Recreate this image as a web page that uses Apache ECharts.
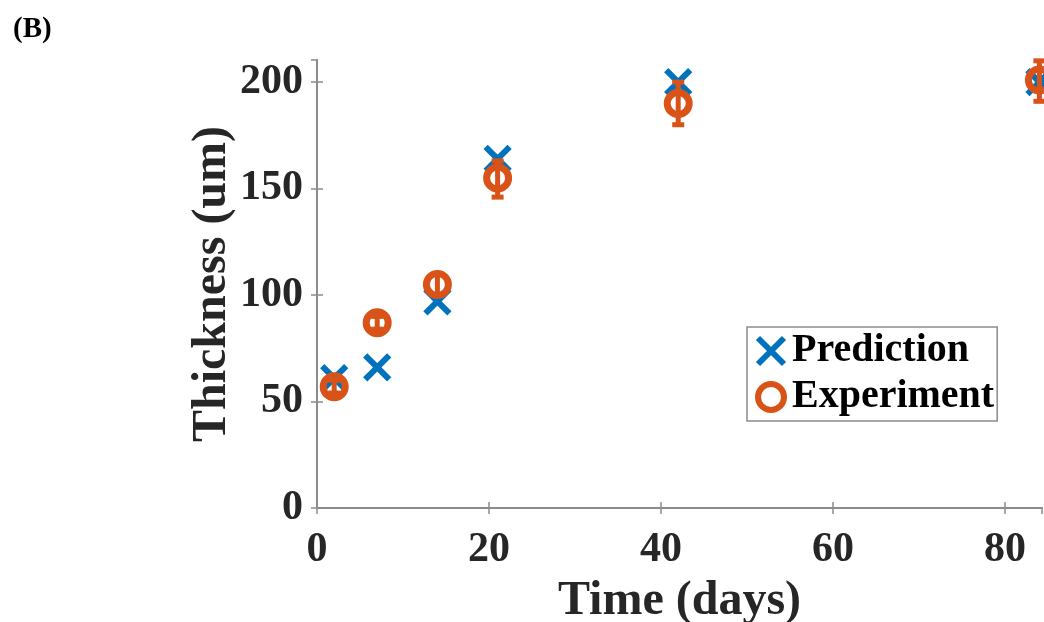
<!DOCTYPE html>
<html lang="en">
<head>
    <meta charset="UTF-8">
    <title>Thickness vs Time</title>
    <style type="text/css">
        *{ margin: 0; padding: 0; }
        #main{ width: 1044px; height: 622px; position: absolute; background: #fff; }
    </style>
</head>
<body>
    <div id="main"></div>
    <script src="https://cdn.jsdelivr.net/npm/echarts@6/dist/echarts.min.js"></script>
    <script type="text/javascript">
        // data
        var days = [2, 7, 14, 21, 42, 84];
        var prediction = [61, 66, 97, 164, 200, 200];
        var experiment = [57, 87, 105, 155, 190, 201];
        var expLow = [54, 84, 100, 146, 180, 191];
        var expHigh = [60, 90, 110, 163, 200, 210];
        var xTicks = [0, 20, 40, 60, 80];
        var yTicks = [0, 50, 100, 150, 200];

        var blue = '#0072BD';
        var orange = '#D95319';
        var font = '"Liberation Serif", "Times New Roman", serif';
        var crossPath = 'path://M0,0 L10,10 M10,0 L0,10';

        var myChart = echarts.init(document.getElementById('main'), null, {renderer: 'canvas'});

        var predData = days.map(function (d, i) { return [d, prediction[i]]; });
        var expData = days.map(function (d, i) { return [d, experiment[i]]; });
        var errData = days.map(function (d, i) { return [d, expLow[i], expHigh[i]]; });

        var axisLine = {show: true, lineStyle: {color: '#8c8c8c', width: 2}};
        var axisTick = {show: true, inside: true, length: 6, lineStyle: {color: '#8c8c8c', width: 1.5}};

        var option = {
            animation: false,
            title: {
                text: '(B)', left: 8, top: 10,
                textStyle: {fontFamily: font, fontWeight: 'bold', fontSize: 29, color: '#000'}
            },
            grid: {left: 317, right: 2, top: 60, bottom: 114, containLabel: false, outerBoundsMode: 'none'},
            legend: {
                left: 747, top: 327,
                orient: 'vertical',
                padding: [4, 3, 4, 8],
                itemGap: 6,
                itemWidth: 28, itemHeight: 26,
                borderColor: '#8c8c8c', borderWidth: 1.5,
                backgroundColor: '#fff',
                textStyle: {fontFamily: font, fontWeight: 'bold', fontSize: 40, color: '#000', padding: [0, 0, 0, 2]},
                data: [
                    {name: 'Prediction', icon: crossPath, itemStyle: {color: 'none', borderColor: blue, borderWidth: 6}},
                    {name: 'Experiment', icon: 'circle', itemStyle: {color: '#fff', borderColor: orange, borderWidth: 6}}
                ]
            },
            xAxis: [{
                type: 'value', min: 0, max: 84.3, interval: 20,
                name: 'Time (days)', nameLocation: 'middle', nameGap: 70, nameMoveOverlap: false,
                nameTextStyle: {fontFamily: font, fontWeight: 'bold', fontSize: 48, color: '#262626'},
                axisLine: axisLine, axisTick: axisTick,
                axisLabel: {
                    showMaxLabel: false, margin: 21,
                    fontFamily: font, fontWeight: 'bold', fontSize: 42, color: '#262626',
                    formatter: function (v) { return xTicks.indexOf(v) >= 0 ? String(v) : ''; }
                },
                splitLine: {show: false}
            }, {
                type: 'value', position: 'top', min: 0, max: 84.3, interval: 20,
                axisLine: axisLine, axisTick: axisTick,
                axisLabel: {show: false}, splitLine: {show: false}
            }],
            yAxis: [{
                type: 'value', min: 0, max: 210.4, interval: 50,
                name: 'Thickness (um)', nameLocation: 'middle', nameGap: 80, nameMoveOverlap: false,
                nameTextStyle: {fontFamily: font, fontWeight: 'bold', fontSize: 48, color: '#262626'},
                axisLine: axisLine, axisTick: axisTick,
                axisLabel: {
                    showMaxLabel: false, margin: 14,
                    fontFamily: font, fontWeight: 'bold', fontSize: 42, color: '#262626',
                    formatter: function (v) { return yTicks.indexOf(v) >= 0 ? String(v) : ''; }
                },
                splitLine: {show: false}
            }, {
                type: 'value', position: 'right', min: 0, max: 210.4, interval: 50,
                axisLine: axisLine, axisTick: axisTick,
                axisLabel: {show: false}, splitLine: {show: false}
            }],
            series: [
                {
                    name: 'Prediction', type: 'scatter', data: predData,
                    symbol: crossPath, symbolSize: 24,
                    itemStyle: {color: 'none', borderColor: blue, borderWidth: 6, opacity: 1},
                    z: 2
                },
                {
                    name: 'errbar', type: 'custom', data: errData, z: 3,
                    renderItem: function (params, api) {
                        var x = api.value(0);
                        var lo = api.coord([x, api.value(1)]);
                        var hi = api.coord([x, api.value(2)]);
                        var cap = 6;
                        var style = {stroke: orange, lineWidth: 5, fill: 'none'};
                        return {
                            type: 'group',
                            children: [
                                {type: 'line', shape: {x1: lo[0], y1: lo[1], x2: hi[0], y2: hi[1]}, style: style},
                                {type: 'line', shape: {x1: lo[0] - cap, y1: lo[1], x2: lo[0] + cap, y2: lo[1]}, style: style},
                                {type: 'line', shape: {x1: hi[0] - cap, y1: hi[1], x2: hi[0] + cap, y2: hi[1]}, style: style}
                            ]
                        };
                    }
                },
                {
                    name: 'Experiment', type: 'scatter', data: expData,
                    symbol: 'circle', symbolSize: 22,
                    itemStyle: {color: 'rgba(255,255,255,0)', borderColor: orange, borderWidth: 7, opacity: 1},
                    z: 4
                }
            ]
        };

        myChart.setOption(option);
    </script>
</body>
</html>
